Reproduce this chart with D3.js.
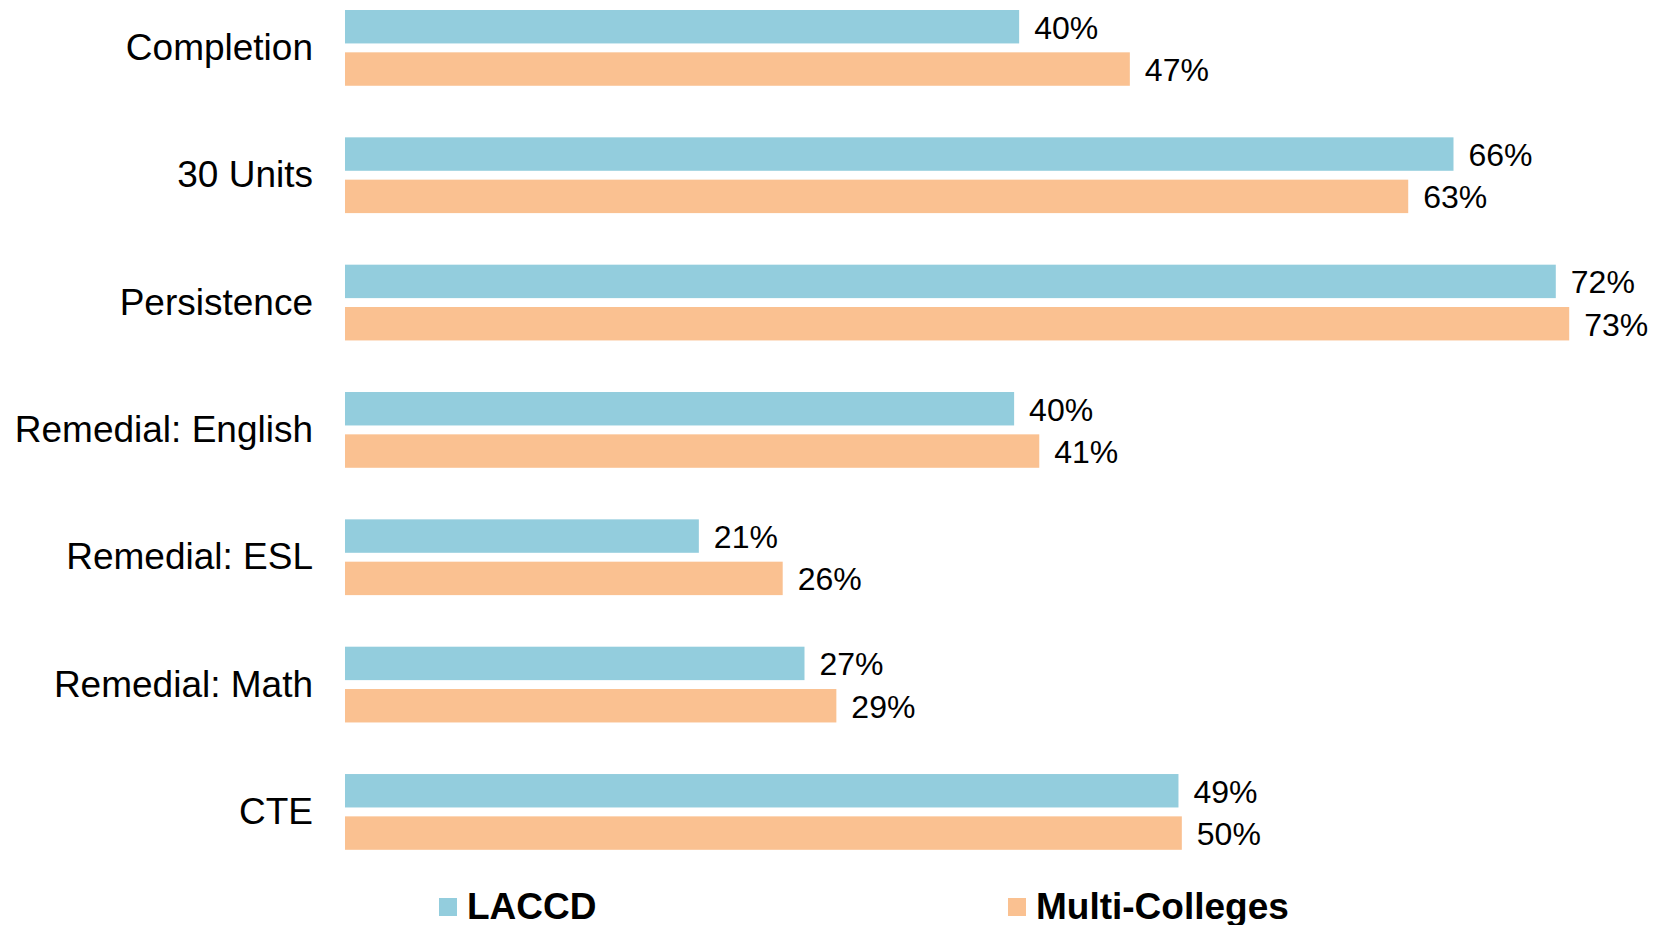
<!DOCTYPE html>
<html>
<head>
<meta charset="utf-8">
<script src="https://cdn.jsdelivr.net/npm/d3@7/dist/d3.min.js"></script>
<style>
  html, body { margin: 0; padding: 0; background: #ffffff; }
  svg { display: block; }
  text { font-family: "Liberation Sans", Arial, sans-serif; fill: #000; }
</style>
</head>
<body>
<svg id="chart" width="1659" height="925"></svg>
<script>
const categories = ["Completion", "30 Units", "Persistence", "Remedial: English", "Remedial: ESL", "Remedial: Math", "CTE"];
const seriesNames = ["LACCD", "Multi-Colleges"];
const laccdValues = [40.2, 66.1, 72.2, 39.9, 21.1, 27.4, 49.7];
const multiValues = [46.8, 63.4, 73.0, 41.4, 26.1, 29.3, 49.9];
const laccdLabels = ["40%", "66%", "72%", "40%", "21%", "27%", "49%"];
const multiLabels = ["47%", "63%", "73%", "41%", "26%", "29%", "50%"];
const seriesColors = ["#93CDDD", "#FAC191"];

const svg = d3.select("#chart");

const x = d3.scaleLinear().domain([0, 100]).range([345, 345 + 1677]);
const y = d3.scaleBand().domain(categories).range([10, 849.8]).paddingInner(0.405).paddingOuter(0);
const ySub = d3.scaleBand().domain(seriesNames).range([0, y.bandwidth()]).paddingInner(0.21).paddingOuter(0);
const color = d3.scaleOrdinal().domain(seriesNames).range(seriesColors);

const rows = categories.map((c, i) => ({
  category: c,
  items: [
    { series: seriesNames[0], value: laccdValues[i], label: laccdLabels[i] },
    { series: seriesNames[1], value: multiValues[i], label: multiLabels[i] }
  ]
}));

const groups = svg.append("g").selectAll("g")
  .data(rows).join("g")
  .attr("transform", d => `translate(0,${y(d.category)})`);

groups.selectAll("rect")
  .data(d => d.items).join("rect")
  .attr("x", x(0))
  .attr("y", d => ySub(d.series))
  .attr("width", d => x(d.value) - x(0))
  .attr("height", ySub.bandwidth())
  .attr("fill", d => color(d.series));

groups.selectAll("text.val")
  .data(d => d.items).join("text")
  .attr("class", "val")
  .attr("x", d => x(d.value) + 15)
  .attr("y", d => ySub(d.series) + ySub.bandwidth() / 2 + 12)
  .attr("font-size", 32)
  .text(d => d.label);

// category axis labels
const yAxis = d3.axisLeft(y).tickSize(0).tickPadding(0);
const axisG = svg.append("g").attr("transform", "translate(313,0)").call(yAxis);
axisG.select(".domain").remove();
axisG.selectAll("text")
  .attr("font-family", "'Liberation Sans', Arial, sans-serif")
  .attr("font-size", 37)
  .attr("fill", "#000")
  .attr("dy", null)
  .attr("y", 12)
  .attr("text-anchor", "end");

// legend
const legendX = [439, 1008];
const legend = svg.append("g").selectAll("g")
  .data(seriesNames).join("g")
  .attr("transform", (d, i) => `translate(${legendX[i]},898)`);
legend.append("rect")
  .attr("width", 18).attr("height", 18)
  .attr("fill", d => color(d));
legend.append("text")
  .attr("x", 28).attr("y", 21)
  .attr("font-size", 37)
  .attr("font-weight", "bold")
  .text(d => d);
</script>
</body>
</html>
